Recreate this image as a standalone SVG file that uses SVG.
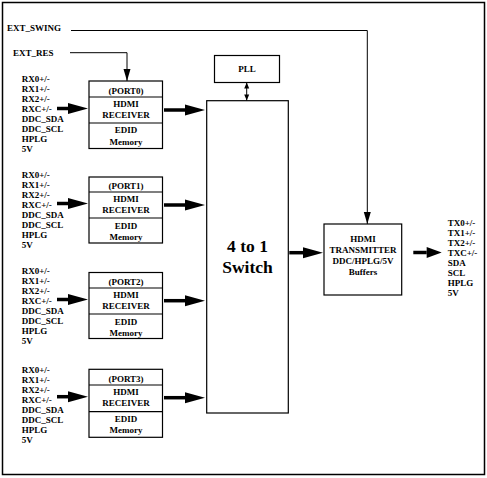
<svg xmlns="http://www.w3.org/2000/svg" width="487" height="478" viewBox="0 0 487 478">
<style>
text{font-family:"Liberation Serif",serif;font-weight:bold;font-size:9px;fill:#000}
.c{text-anchor:middle}
.big{font-size:17.5px}
.box{fill:#fff;stroke:#000;stroke-width:1.2}
.div{stroke:#000;stroke-width:1.2}
.thin{fill:none;stroke:#000;stroke-width:1}
.thick{fill:none;stroke:#000;stroke-width:3.5}
</style>
<defs>
<marker id="hb" markerUnits="userSpaceOnUse" markerWidth="20" markerHeight="11" refX="0" refY="5.5" orient="auto" overflow="visible"><path d="M0,0 L20,5.5 L0,11 z" fill="#000"/></marker>
<marker id="hm" markerUnits="userSpaceOnUse" markerWidth="15" markerHeight="11" refX="0" refY="5.5" orient="auto" overflow="visible"><path d="M0,0 L15,5.5 L0,11 z" fill="#000"/></marker>
<marker id="hs" markerUnits="userSpaceOnUse" markerWidth="12" markerHeight="7" refX="12" refY="3.5" orient="auto" overflow="visible"><path d="M0,0 L12,3.5 L0,7 z" fill="#000"/></marker>
<marker id="hp" markerUnits="userSpaceOnUse" markerWidth="6" markerHeight="5" refX="6" refY="2.5" orient="auto-start-reverse" overflow="visible"><path d="M0,0 L6,2.5 L0,5 z" fill="#000"/></marker>
</defs>
<rect x="2.5" y="2.5" width="482" height="472" fill="#fff" stroke="#000" stroke-width="1.5"/>

<g id="ext-signals">
<text x="7" y="31">EXT_SWING</text>
<text x="13" y="56">EXT_RES</text>
</g>

<g id="pll">
<rect class="box" x="214.5" y="55.5" width="65" height="27"/>
<text class="c" x="247" y="72">PLL</text>
</g>

<g id="switch">
<rect class="box" x="206.7" y="100.7" width="81.6" height="312.3"/>
<text class="c big" x="247.5" y="251.7">4 to 1</text>
<text class="c big" x="247.5" y="272.7">Switch</text>
</g>

<g id="transmitter">
<rect class="box" x="324" y="224" width="77.7" height="71"/>
<text class="c" x="363" y="242.3">HDMI</text>
<text class="c" x="363" y="253.3">TRANSMITTER</text>
<text class="c" x="363" y="264">DDC/HPLG/5V</text>
<text class="c" x="363" y="275">Buffers</text>
</g>

<g id="tx-labels">
<text x="447.7" y="226.3">TX0+/-</text>
<text x="447.7" y="236.3">TX1+/-</text>
<text x="447.7" y="246.3">TX2+/-</text>
<text x="447.7" y="256.3">TXC+/-</text>
<text x="447.7" y="266.3">SDA</text>
<text x="447.7" y="276.3">SCL</text>
<text x="447.7" y="286.3">HPLG</text>
<text x="447.7" y="296.3">5V</text>
</g>

<g id="port0" transform="translate(0,81)">
<rect class="box" x="89" y="0" width="73.5" height="67.5"/>
<line class="div" x1="89" y1="16" x2="162.5" y2="16"/>
<line class="div" x1="89" y1="42" x2="162.5" y2="42"/>
<text class="c" x="126" y="12.5">(PORT0)</text>
<text class="c" x="126" y="25.7">HDMI</text>
<text class="c" x="126" y="37">RECEIVER</text>
<text class="c" x="126" y="52.3">EDID</text>
<text class="c" x="126" y="64">Memory</text>
<text x="21.7" y="1">RX0+/-</text>
<text x="21.7" y="11">RX1+/-</text>
<text x="21.7" y="21">RX2+/-</text>
<text x="21.7" y="31">RXC+/-</text>
<text x="21.7" y="41">DDC_SDA</text>
<text x="21.7" y="51">DDC_SCL</text>
<text x="21.7" y="61">HPLG</text>
<text x="21.7" y="71">5V</text>
</g>

<g id="port1" transform="translate(0,177)">
<rect class="box" x="89" y="0" width="73.5" height="66"/>
<line class="div" x1="89" y1="15" x2="162.5" y2="15"/>
<line class="div" x1="89" y1="41" x2="162.5" y2="41"/>
<text class="c" x="126" y="12">(PORT1)</text>
<text class="c" x="126" y="25">HDMI</text>
<text class="c" x="126" y="36.3">RECEIVER</text>
<text class="c" x="126" y="51.5">EDID</text>
<text class="c" x="126" y="63">Memory</text>
<text x="21.7" y="1">RX0+/-</text>
<text x="21.7" y="11">RX1+/-</text>
<text x="21.7" y="21">RX2+/-</text>
<text x="21.7" y="31">RXC+/-</text>
<text x="21.7" y="41">DDC_SDA</text>
<text x="21.7" y="51">DDC_SCL</text>
<text x="21.7" y="61">HPLG</text>
<text x="21.7" y="71">5V</text>
</g>

<g id="port2" transform="translate(0,272.5)">
<rect class="box" x="89" y="0" width="73.5" height="66"/>
<line class="div" x1="89" y1="15.5" x2="162.5" y2="15.5"/>
<line class="div" x1="89" y1="41.5" x2="162.5" y2="41.5"/>
<text class="c" x="126" y="12.3">(PORT2)</text>
<text class="c" x="126" y="25.5">HDMI</text>
<text class="c" x="126" y="36.8">RECEIVER</text>
<text class="c" x="126" y="52">EDID</text>
<text class="c" x="126" y="63.5">Memory</text>
<text x="21.7" y="1">RX0+/-</text>
<text x="21.7" y="11">RX1+/-</text>
<text x="21.7" y="21">RX2+/-</text>
<text x="21.7" y="31">RXC+/-</text>
<text x="21.7" y="41">DDC_SDA</text>
<text x="21.7" y="51">DDC_SCL</text>
<text x="21.7" y="61">HPLG</text>
<text x="21.7" y="71">5V</text>
</g>

<g id="port3" transform="translate(0,369.3)">
<rect class="box" x="89" y="0" width="73.5" height="68"/>
<line class="div" x1="89" y1="15.7" x2="162.5" y2="15.7"/>
<line class="div" x1="89" y1="42.4" x2="162.5" y2="42.4"/>
<text class="c" x="126" y="12.5">(PORT3)</text>
<text class="c" x="126" y="25.7">HDMI</text>
<text class="c" x="126" y="37">RECEIVER</text>
<text class="c" x="126" y="52.5">EDID</text>
<text class="c" x="126" y="64">Memory</text>
<text x="21.7" y="4">RX0+/-</text>
<text x="21.7" y="14">RX1+/-</text>
<text x="21.7" y="24">RX2+/-</text>
<text x="21.7" y="34">RXC+/-</text>
<text x="21.7" y="44">DDC_SDA</text>
<text x="21.7" y="54">DDC_SCL</text>
<text x="21.7" y="64">HPLG</text>
<text x="21.7" y="74">5V</text>
</g>

<g id="connectors">
<path class="thin" d="M71,30.5 H367.3 V224" marker-end="url(#hs)"/>
<path class="thin" d="M70,52.7 H127 V81" marker-end="url(#hs)"/>
<line class="thin" x1="246.7" y1="82.5" x2="246.7" y2="100.5" marker-start="url(#hp)" marker-end="url(#hp)"/>
<line class="thick" x1="57" y1="108.5" x2="68" y2="108.5" marker-end="url(#hb)"/>
<line class="thick" x1="57" y1="203.5" x2="68" y2="203.5" marker-end="url(#hb)"/>
<line class="thick" x1="57" y1="299.5" x2="68" y2="299.5" marker-end="url(#hb)"/>
<line class="thick" x1="57" y1="396.7" x2="68" y2="396.7" marker-end="url(#hb)"/>
<line class="thick" x1="164" y1="110" x2="185" y2="110" marker-end="url(#hb)"/>
<line class="thick" x1="164" y1="205" x2="185" y2="205" marker-end="url(#hb)"/>
<line class="thick" x1="164" y1="300.7" x2="185" y2="300.7" marker-end="url(#hb)"/>
<line class="thick" x1="164" y1="397.7" x2="185" y2="397.7" marker-end="url(#hb)"/>
<line class="thick" x1="289.3" y1="252.7" x2="303" y2="252.7" marker-end="url(#hb)"/>
<line class="thick" x1="413.3" y1="252.5" x2="426.7" y2="252.5" marker-end="url(#hm)"/>
</g>
</svg>
